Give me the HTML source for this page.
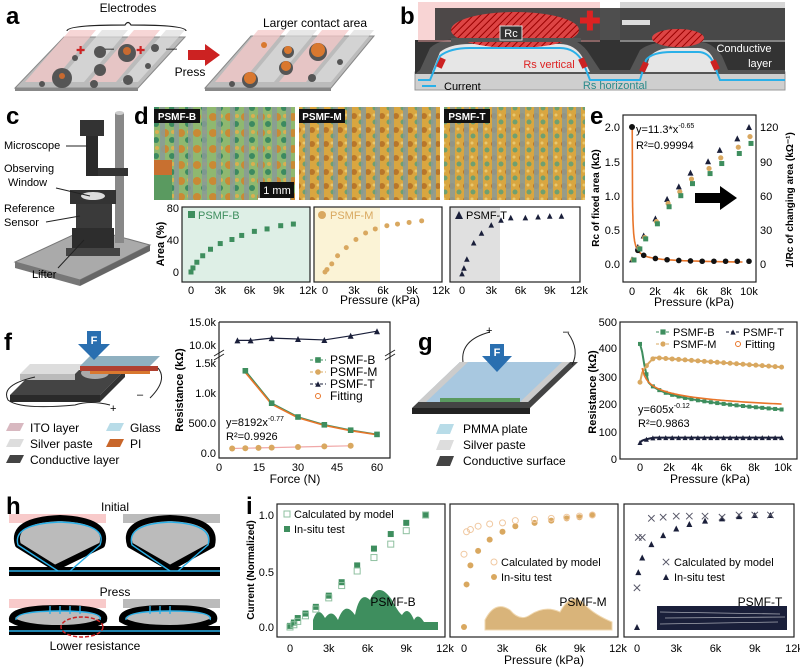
<!DOCTYPE html>
<html><head><meta charset="utf-8">
<style>
html,body{margin:0;padding:0;background:#fff;}
svg{display:block;font-family:"Liberation Sans",sans-serif;}
.pl{font-family:"Liberation Sans",sans-serif;font-weight:bold;font-size:24px;}
.t{font-size:12px;}
.tk{font-size:11px;}
.ax{fill:none;stroke:#222;stroke-width:1.2;}
</style></head><body>
<svg id="s" width="800" height="668" viewBox="0 0 800 668" xmlns="http://www.w3.org/2000/svg">
<defs>
<pattern id="hatch" width="5" height="5" patternUnits="userSpaceOnUse" patternTransform="rotate(45)">
<rect width="5" height="5" fill="#d44"/><line x1="0" y1="0" x2="0" y2="5" stroke="#900" stroke-width="2"/></pattern>
<pattern id="micro" width="14" height="14" patternUnits="userSpaceOnUse">
<rect width="14" height="14" fill="#d9a640"/><circle cx="4" cy="4" r="3" fill="#b8762a"/><circle cx="11" cy="10" r="2.5" fill="#6fa070"/><circle cx="10" cy="3" r="1.5" fill="#e8c870"/></pattern>
<pattern id="microB" width="16" height="16" patternUnits="userSpaceOnUse">
<rect width="16" height="16" fill="#8fb870"/><circle cx="5" cy="5" r="4" fill="#c98a35"/><circle cx="12" cy="12" r="3" fill="#3c8a60"/><circle cx="13" cy="4" r="2" fill="#d8b050"/></pattern>
</defs>

<text class="pl" x="6" y="24">a</text>
<text class="pl" x="400" y="24">b</text>
<text class="pl" x="6" y="124">c</text>
<text class="pl" x="134" y="124">d</text>
<text class="pl" x="590" y="124">e</text>
<text class="pl" x="4" y="350">f</text>
<text class="pl" x="418" y="350">g</text>
<text class="pl" x="6" y="514" font-size="22">h</text>
<text class="pl" x="246" y="514" font-size="22">i</text>

<!-- a -->
<text class="t" x="128" y="12" text-anchor="middle">Electrodes</text>
<path d="M67 31 Q67 25 125 25 Q128 20 131 25 Q186 25 186 31" fill="none" stroke="#222" stroke-width="1.2"/>
<polygon points="15,88 138,88 185,37 64,37" fill="#bbb" stroke="#888"/>
<polygon points="15,88 138,88 138,91 15,91" fill="#888"/>
<polygon points="25,82 52,82 96,30 70,30" fill="#f4c8c8" opacity="0.75"/>
<polygon points="57,82 84,82 128,30 102,30" fill="#ddd" opacity="0.7"/>
<polygon points="89,82 116,82 160,30 134,30" fill="#f4c8c8" opacity="0.75"/>
<polygon points="121,82 138,82 185,30 166,30" fill="#ddd" opacity="0.7"/>
<text x="76" y="54" fill="#c22" font-size="11">✚</text><text x="103" y="52" font-size="11">—</text><text x="136" y="54" fill="#c22" font-size="11">✚</text><text x="166" y="52" font-size="11">—</text>
<g fill="#555"><circle cx="62" cy="78" r="10"/><circle cx="100" cy="70" r="6"/><circle cx="128" cy="80" r="5"/><circle cx="94" cy="84" r="4"/><circle cx="127" cy="53" r="9"/><circle cx="100" cy="52" r="6"/><circle cx="155" cy="48" r="4"/><circle cx="42" cy="84" r="3"/><circle cx="75" cy="58" r="3"/><circle cx="148" cy="66" r="3"/></g>
<g fill="#c86a30"><circle cx="62" cy="76" r="3"/><circle cx="127" cy="51" r="4"/></g>
<polygon points="188,50 205,50 205,44 220,55 205,66 205,60 188,60" fill="#c22"/>
<text class="t" x="190" y="76" text-anchor="middle" font-size="13">Press</text>
<text class="t" x="315" y="27" text-anchor="middle">Larger contact area</text>
<polygon points="205,88 331,88 374,36 251,36" fill="#bbb" stroke="#888"/>
<polygon points="205,88 331,88 331,91 205,91" fill="#888"/>
<polygon points="215,82 242,82 285,30 258,30" fill="#f4c8c8" opacity="0.75"/>
<polygon points="247,82 274,82 317,30 290,30" fill="#ddd" opacity="0.7"/>
<polygon points="279,82 306,82 349,30 322,30" fill="#f4c8c8" opacity="0.75"/>
<polygon points="311,82 331,82 374,30 354,30" fill="#ddd" opacity="0.7"/>
<g fill="#555"><circle cx="250" cy="80" r="8"/><circle cx="286" cy="68" r="7"/><circle cx="318" cy="52" r="9"/><circle cx="288" cy="52" r="6"/><circle cx="232" cy="84" r="3"/><circle cx="312" cy="78" r="4"/><circle cx="340" cy="62" r="3"/></g>
<g fill="#d9782f"><circle cx="250" cy="78" r="6"/><circle cx="286" cy="66" r="5"/><circle cx="318" cy="50" r="7"/><circle cx="288" cy="50" r="4"/><circle cx="264" cy="45" r="3"/></g>

<!-- b -->
<rect x="415" y="72" width="370" height="18" fill="#cfcfcf" stroke="#999"/>
<rect x="415" y="40" width="370" height="34" fill="#333"/>
<path d="M420 70 L430 48 Q440 38 470 38 L560 38 Q580 38 590 55 L600 70 L630 70 L640 50 Q650 42 670 42 L700 42 Q712 42 722 56 L728 70 L785 70 L785 74 L415 74 Z" fill="#555"/>
<path d="M432 72 L440 52 Q450 44 470 44 L560 44 Q575 44 583 58 L590 72 Z" fill="#e6e6e6"/>
<path d="M645 72 L650 56 Q658 48 672 48 L698 48 Q708 48 713 58 L718 72 Z" fill="#e6e6e6"/>
<rect x="418" y="2" width="182" height="40" fill="#f0a0a0" opacity="0.45"/>
<rect x="620" y="2" width="165" height="40" fill="#bbb" opacity="0.6"/>
<rect x="435" y="8" width="350" height="32" fill="#2f2f2f" opacity="0.85"/>
<ellipse cx="515" cy="30" rx="64" ry="18" fill="url(#hatch)"/>
<rect x="451" y="38" width="130" height="4" fill="#555"/>
<ellipse cx="678" cy="38" rx="26" ry="9" fill="url(#hatch)"/>
<text x="579" y="30" fill="#d22" font-size="26" font-weight="bold">✚</text>
<rect x="622" y="20" width="28" height="5" fill="#ddd"/>
<rect x="500" y="26" width="22" height="14" fill="#333" stroke="#ddd"/>
<text x="511" y="37" fill="#fff" font-size="11" text-anchor="middle">Rc</text>
<path d="M418 80 L430 80 L440 56 Q450 48 470 48 L560 48 Q575 48 583 62 L590 80 L640 80 L646 60 Q652 52 672 52 L698 52 Q708 52 713 62 L720 80 L785 80" fill="none" stroke="#2ab0e8" stroke-width="2"/>
<rect x="438" y="58" width="6" height="10" fill="#c22" transform="rotate(25 441 63)"/><rect x="580" y="58" width="6" height="10" fill="#c22" transform="rotate(-25 583 63)"/>
<rect x="641" y="62" width="6" height="10" fill="#c22" transform="rotate(25 644 67)"/><rect x="712" y="60" width="6" height="10" fill="#c22" transform="rotate(-25 715 65)"/>
<text x="549" y="68" fill="#d22" font-size="11" text-anchor="middle">Rs vertical</text>
<text x="744" y="52" fill="#fff" font-size="11" text-anchor="middle">Conductive</text>
<text x="760" y="67" fill="#fff" font-size="11" text-anchor="middle">layer</text>
<path d="M422 86 L436 86" stroke="#2ab0e8" stroke-width="2"/>
<text x="444" y="90" font-size="11">Current</text>
<text x="615" y="89" fill="#2a8a8a" font-size="11" text-anchor="middle">Rs horizontal</text>

<!-- c -->
<polygon points="15,262 80,280 150,245 88,228" fill="#aaa" stroke="#777"/>
<polygon points="15,262 80,280 80,286 15,268" fill="#777"/><polygon points="80,280 150,245 150,251 80,286" fill="#666"/>
<rect x="115" y="113" width="9" height="130" fill="#888"/><ellipse cx="119.5" cy="113" rx="4.5" ry="2" fill="#ccc"/>
<rect x="80" y="120" width="24" height="16" fill="#333"/>
<rect x="86" y="136" width="12" height="40" fill="#2a2a2a"/>
<rect x="98" y="168" width="30" height="8" fill="#333"/>
<rect x="70" y="190" width="46" height="14" fill="#333"/>
<ellipse cx="93" cy="196" rx="12" ry="4" fill="#ddd"/>
<rect x="76" y="204" width="36" height="24" fill="#3a3a3a"/>
<rect x="72" y="228" width="42" height="26" fill="#2d2d2d"/>
<rect x="66" y="248" width="54" height="8" fill="#444"/>
<g stroke="#222" stroke-width="1"><line x1="66" y1="146" x2="88" y2="146"/><line x1="56" y1="188" x2="90" y2="196"/><line x1="46" y1="222" x2="80" y2="216"/><line x1="58" y1="268" x2="84" y2="240"/></g>
<g font-size="11"><text x="4" y="149">Microscope</text><text x="4" y="172">Observing</text><text x="8" y="186">Window</text><text x="4" y="212">Reference</text><text x="4" y="226">Sensor</text><text x="32" y="278">Lifter</text></g>

<!-- d images -->
<rect x="154" y="107" width="141" height="93" fill="url(#microB)"/>
<rect x="299" y="107" width="141" height="93" fill="url(#micro)"/>
<rect x="444" y="107" width="141" height="93" fill="url(#micro)"/>
<g id="stripes"></g>
<rect x="154" y="109" width="46" height="14" fill="#111"/><text x="177" y="120" fill="#fff" font-size="10" font-weight="bold" text-anchor="middle">PSMF-B</text>
<rect x="299" y="109" width="46" height="14" fill="#111"/><text x="322" y="120" fill="#fff" font-size="10" font-weight="bold" text-anchor="middle">PSMF-M</text>
<rect x="444" y="109" width="46" height="14" fill="#111"/><text x="467" y="120" fill="#fff" font-size="10" font-weight="bold" text-anchor="middle">PSMF-T</text>
<rect x="154" y="160" width="18" height="40" fill="#c87030"/><rect x="154" y="175" width="18" height="25" fill="#5a9a60"/>
<rect x="260" y="182" width="34" height="16" fill="#111"/><text x="277" y="194" fill="#fff" font-size="11" text-anchor="middle">1 mm</text>
<line x1="258" y1="199" x2="290" y2="199" stroke="#fff" stroke-width="2"/>

<rect x="182" y="207" width="128" height="75" fill="#deefe6"/>
<rect x="314" y="207" width="66" height="75" fill="#fbf3d6"/>
<rect x="450" y="207" width="50" height="75" fill="#e0e0e0"/>
<rect class="ax" x="182" y="207" width="128" height="75"/>
<rect class="ax" x="314" y="207" width="128" height="75"/>
<rect class="ax" x="450" y="207" width="130" height="75"/>
<g class="tk" text-anchor="end"><text x="179" y="212">80</text><text x="179" y="244">40</text><text x="179" y="276">0</text></g>
<text transform="translate(164,244) rotate(-90)" font-size="11" text-anchor="middle" font-weight="bold">Area (%)</text>
<g class="tk" text-anchor="middle" id="dticks"></g>
<text x="380" y="304" class="t" text-anchor="middle">Pressure (kPa)</text>
<rect x="188" y="211" width="7" height="7" fill="#3e8e5e"/><text x="198" y="219" fill="#3e8e5e" font-size="11">PSMF-B</text>
<circle cx="322" cy="215" r="4" fill="#d9a860"/><text x="330" y="219" fill="#d9a860" font-size="11">PSMF-M</text>
<polygon points="455,219 459,211 463,219" fill="#1a1f3a"/><text x="466" y="219" font-size="11">PSMF-T</text>

<!-- e -->
<rect class="ax" x="623" y="115" width="133" height="167"/>
<g class="tk" text-anchor="end"><text x="620" y="131">2.0</text><text x="620" y="166">1.5</text><text x="620" y="200">1.0</text><text x="620" y="234">0.5</text><text x="620" y="268">0.0</text></g>
<g class="tk"><text x="760" y="131">120</text><text x="760" y="166">90</text><text x="760" y="200">60</text><text x="760" y="234">30</text><text x="760" y="268">0</text></g>
<g class="tk" text-anchor="middle"><text x="632" y="295">0</text><text x="655" y="295">2k</text><text x="679" y="295">4k</text><text x="702" y="295">6k</text><text x="726" y="295">8k</text><text x="749" y="295">10k</text></g>
<text x="694" y="306" class="t" text-anchor="middle">Pressure (kPa)</text>
<text transform="translate(599,198) rotate(-90)" font-size="10" font-weight="bold" text-anchor="middle">Rc of fixed area (kΩ)</text>
<text transform="translate(793,200) rotate(-90)" font-size="10" font-weight="bold" text-anchor="middle">1/Rc of changing area (kΩ⁻¹)</text>
<text x="636" y="133" font-size="11">y=11.3*x<tspan font-size="7" dy="-5">-0.65</tspan></text>
<text x="636" y="149" font-size="11">R²=0.99994</text>
<polygon points="695,193 720,193 720,186 737,198 720,210 720,203 695,203" fill="#000"/>

<!-- f diagram -->
<polygon points="10,395 100,395 125,370 35,370" fill="#444"/><polygon points="10,395 100,395 100,402 10,402" fill="#2a2a2a"/><polygon points="100,395 125,370 125,377 100,402" fill="#333"/>
<polygon points="20,374 75,374 85,364 30,364" fill="#ddd"/><polygon points="20,374 75,374 75,380 20,380" fill="#bbb"/>
<ellipse cx="95" cy="373" rx="14" ry="6" fill="#aaa"/>
<polygon points="80,366 150,366 160,356 90,356" fill="#8fb0c0"/><rect x="80" y="366" width="78" height="5" fill="#b04030"/><rect x="90" y="371" width="60" height="3" fill="#d9782f"/>
<polygon points="87,331 101,331 101,344 110,344 94,360 78,344 87,344" fill="#2a6fb0"/><text x="94" y="344" fill="#fff" font-size="11" text-anchor="middle" font-weight="bold">F</text>
<path d="M35 377 Q0 385 8 400 Q20 410 75 405 Q90 400 110 405" fill="none" stroke="#222"/>
<path d="M158 368 Q168 380 150 398" fill="none" stroke="#222"/>
<text x="110" y="412" font-size="11">+</text><text x="137" y="398" font-size="11">–</text>
<g><polygon points="6,431 20,431 24,423 10,423" fill="#d8b8c0"/><polygon points="6,447 20,447 24,439 10,439" fill="#ddd"/><polygon points="6,463 20,463 24,455 10,455" fill="#444"/>
<polygon points="106,431 120,431 124,423 110,423" fill="#b8dce8"/><polygon points="106,447 120,447 124,439 110,439" fill="#c8662a"/></g>
<g class="t"><text x="30" y="432">ITO layer</text><text x="30" y="448">Silver paste</text><text x="30" y="464">Conductive layer</text><text x="130" y="432">Glass</text><text x="130" y="448">PI</text></g>

<!-- f plot -->
<polyline class="ax" points="219,322 219,458 390,458 390,322 219,322"/>
<g class="tk" text-anchor="end"><text x="216" y="326">15.0k</text><text x="216" y="349">10.0k</text><text x="216" y="367">1.5k</text><text x="216" y="397">1.0k</text><text x="216" y="427">500.0</text><text x="216" y="457">0.0</text></g>
<g class="tk" text-anchor="middle"><text x="219" y="471">0</text><text x="259" y="471">15</text><text x="298" y="471">30</text><text x="337" y="471">45</text><text x="377" y="471">60</text></g>
<text x="295" y="483" class="t" text-anchor="middle">Force (N)</text>
<text transform="translate(183,390) rotate(-90)" font-size="11" font-weight="bold" text-anchor="middle">Resistance (kΩ)</text>
<text x="226" y="426" font-size="11">y=8192x<tspan font-size="7" dy="-5">-0.77</tspan></text>
<text x="226" y="440" font-size="11">R²=0.9926</text>

<!-- g diagram -->
<polygon points="412,408 530,408 578,362 460,362" fill="#444"/><polygon points="412,408 530,408 530,414 412,414" fill="#222"/>
<polygon points="418,402 528,402 570,362 460,362" fill="#a8c8e0"/>
<polygon points="418,402 426,402 468,362 460,362" fill="#ccc"/><polygon points="520,402 528,402 570,362 562,362" fill="#ccc"/>
<polygon points="440,402 520,402 520,398 440,398" fill="#5a9a60"/>
<polygon points="490,344 504,344 504,356 512,356 497,372 482,356 490,356" fill="#2a6fb0"/><text x="497" y="356" fill="#fff" font-size="11" text-anchor="middle" font-weight="bold">F</text>
<path d="M463 362 Q460 340 490 332" fill="none" stroke="#222"/><path d="M572 365 Q580 350 568 333" fill="none" stroke="#222"/>
<text x="486" y="334" font-size="11">+</text><text x="563" y="335" font-size="11">–</text>
<polygon points="436,434 450,434 454,424 440,424" fill="#b8dce8"/><polygon points="436,450 450,450 454,440 440,440" fill="#ddd"/><polygon points="436,466 450,466 454,456 440,456" fill="#444"/>
<g class="t"><text x="463" y="433">PMMA plate</text><text x="463" y="449">Silver paste</text><text x="463" y="465">Conductive surface</text></g>

<!-- g plot -->
<rect class="ax" x="620" y="322" width="177" height="137"/>
<g class="tk" text-anchor="end"><text x="617" y="326">500</text><text x="617" y="352">400</text><text x="617" y="381">300</text><text x="617" y="408">200</text><text x="617" y="436">100</text><text x="617" y="463">0</text></g>
<g class="tk" text-anchor="middle"><text x="640" y="471">0</text><text x="669" y="471">2k</text><text x="697" y="471">4k</text><text x="726" y="471">6k</text><text x="754" y="471">8k</text><text x="783" y="471">10k</text></g>
<text x="710" y="483" class="t" text-anchor="middle">Pressure (kPa)</text>
<text transform="translate(596,392) rotate(-90)" font-size="11" font-weight="bold" text-anchor="middle">Resistance (kΩ)</text>
<text x="638" y="413" font-size="11">y=605x<tspan font-size="7" dy="-5">-0.12</tspan></text>
<text x="638" y="427" font-size="11">R²=0.9863</text>

<!-- h -->
<text x="115" y="511" class="t" font-size="13" text-anchor="middle">Initial</text>
<rect x="9" y="514" width="97" height="9" fill="#f8caca"/><rect x="123" y="514" width="97" height="9" fill="#bbb"/>
<g fill="#bbb" stroke="#000" stroke-width="6" stroke-linejoin="round">
<path d="M55 568 L18 545 Q10 520 60 518 Q110 520 102 545 Z"/>
<path d="M170 568 L130 545 Q122 520 170 518 Q218 520 212 545 Z"/>
</g>
<rect x="9" y="567" width="211" height="9" fill="#000"/>
<g fill="none" stroke="#2ab0e8" stroke-width="1.4"><path d="M9 571 L220 571"/><path d="M58 571 L18 545 Q12 524 60 522 Q108 524 100 545 L70 571" /><path d="M170 571 L132 545 Q126 524 170 522 Q214 524 208 545 L178 571"/></g>
<text x="115" y="596" class="t" font-size="13" text-anchor="middle">Press</text>
<rect x="9" y="599" width="97" height="9" fill="#f8caca"/><rect x="123" y="599" width="97" height="9" fill="#bbb"/>
<g fill="#bbb" stroke="#000" stroke-width="6"><path d="M12 620 Q10 608 60 608 Q108 608 104 620 Q90 628 60 628 Q25 628 12 620Z"/><path d="M122 620 Q120 608 170 608 Q218 608 214 620 Q200 628 170 628 Q135 628 122 620Z"/></g>
<rect x="9" y="626" width="211" height="9" fill="#000"/>
<g fill="none" stroke="#2ab0e8" stroke-width="1.4"><path d="M9 631 L220 631"/><path d="M16 620 Q15 611 60 611 Q104 611 100 620"/><path d="M126 620 Q125 611 170 611 Q214 611 210 620"/></g>
<g stroke="#2ab0e8" stroke-width="1.4"><line x1="60" y1="606" x2="60" y2="614"/><line x1="70" y1="606" x2="70" y2="614"/><line x1="80" y1="606" x2="80" y2="614"/><line x1="50" y1="606" x2="50" y2="614"/><line x1="150" y1="606" x2="150" y2="614"/><line x1="160" y1="606" x2="160" y2="614"/><line x1="170" y1="606" x2="170" y2="614"/></g>
<ellipse cx="82" cy="627" rx="21" ry="10" fill="none" stroke="#c22" stroke-width="1.5" stroke-dasharray="4 2"/>
<text x="95" y="650" class="t" font-size="13" text-anchor="middle">Lower resistance</text>

<!-- i -->
<rect class="ax" x="277" y="504" width="168" height="133"/>
<rect class="ax" x="450" y="504" width="168" height="133"/>
<rect class="ax" x="624" y="504" width="170" height="133"/>
<g class="tk" text-anchor="end"><text x="274" y="519">1.0</text><text x="274" y="576">0.5</text><text x="274" y="631">0.0</text></g>
<text transform="translate(254,570) rotate(-90)" font-size="10" font-weight="bold" text-anchor="middle">Current (Normalized)</text>
<g class="tk" text-anchor="middle" id="iticks"></g>
<text x="544" y="664" class="t" text-anchor="middle">Pressure (kPa)</text>
<path d="M313 630 L313 620 Q318 605 325 618 Q332 608 338 620 Q345 600 355 615 Q360 590 370 600 Q378 580 392 600 Q398 612 402 615 Q408 605 414 620 Q418 612 424 622 L438 622 L438 630 Z" fill="#3e8e5e"/>
<path d="M485 630 L485 620 Q495 600 510 610 Q520 622 530 615 Q545 605 560 612 Q572 590 585 605 Q595 615 612 622 L612 630 Z" fill="#d9b47a" stroke="#f0d8b0"/>
<rect x="657" y="606" width="130" height="24" fill="#1a1f3a"/>
<g stroke="#fff" stroke-width="0.8" opacity="0.6"><line x1="660" y1="612" x2="780" y2="614"/><line x1="665" y1="618" x2="785" y2="617"/><line x1="660" y1="624" x2="778" y2="622"/></g>
<text x="393" y="606" class="t" text-anchor="middle">PSMF-B</text>
<text x="583" y="606" class="t" text-anchor="middle">PSMF-M</text>
<text x="760" y="606" class="t" text-anchor="middle">PSMF-T</text>
<g font-size="11"><text x="294" y="518">Calculated by model</text><text x="294" y="533">In-situ test</text>
<text x="501" y="566">Calculated by model</text><text x="501" y="581">In-situ test</text>
<text x="674" y="566">Calculated by model</text><text x="674" y="581">In-situ test</text></g>
<g id="pts"></g>
</svg>
<script>
const NS="http://www.w3.org/2000/svg",G=document.getElementById('pts');
function el(t,a,p){const e=document.createElementNS(NS,t);for(const k in a)e.setAttribute(k,a[k]);(p||G).appendChild(e);return e;}
function mk(s,x,y,c,r,hollow){r=r||3;
 const f=hollow?'none':c, st=hollow?c:'none';
 if(s==='s')el('rect',{x:x-r,y:y-r,width:2*r,height:2*r,fill:f,stroke:st});
 else if(s==='c')el('circle',{cx:x,cy:y,r:r,fill:f,stroke:st});
 else if(s==='t')el('polygon',{points:`${x-r},${y+r} ${x},${y-r} ${x+r},${y+r}`,fill:f,stroke:st});
 else if(s==='x'){el('line',{x1:x-r,y1:y-r,x2:x+r,y2:y+r,stroke:c});el('line',{x1:x-r,y1:y+r,x2:x+r,y2:y-r,stroke:c});}
}
const GR='#3e8e5e',OR='#d9a860',NV='#1a1f3a',FO='#e8752a';
const S=document.getElementById('stripes');
[154,299,444].forEach(x0=>{for(let i=0;i<10;i++)el('rect',{x:x0+6+i*14,y:107,width:5,height:93,fill:'#8a9a98',opacity:0.85},S);});
const dt=document.getElementById('dticks');
[[191,308],[325,441],[462,579]].forEach(([a,b])=>{['0','3k','6k','9k','12k'].forEach((l,i)=>{const t=el('text',{x:a+(b-a)*i/4,y:294},dt);t.textContent=l;});});
function dmap(a,b,p,v){return [a+(b-a)*p/12000,272-v/80*65];}
[[0,0],[200,5],[600,12],[1200,20],[2000,28],[3000,35],[4200,40],[5200,45],[6500,50],[7800,53],[9200,57],[10500,59]].forEach(([p,v])=>{const [x,y]=dmap(191,308,p,v);mk('s',x,y,GR,2.5);});
[[0,0],[200,3],[700,10],[1300,20],[2200,30],[3200,40],[4200,48],[5200,53],[6400,57],[7500,59],[8700,61],[10000,63]].forEach(([p,v])=>{const [x,y]=dmap(325,441,p,v);mk('c',x,y,OR,2.5);});
[[0,-2],[200,5],[500,16],[1200,36],[2000,48],[3000,58],[4000,64],[5000,67],[6500,67],[7800,68],[9000,69],[10200,69]].forEach(([p,v])=>{const [x,y]=dmap(462,579,p,v);mk('t',x,y,NV,2.8);});
const ex=p=>632+p/10000*117, eyL=v=>264-v/2*137, eyR=v=>264-v/120*137;
let d='';for(let p=40;p<=10000;p*=1.08){d+=(d?'L':'M')+ex(p).toFixed(1)+' '+eyL(Math.min(2.0,11.3*Math.pow(p,-0.65))).toFixed(1);}
el('path',{d:'M'+ex(0)+' '+eyL(2)+' L'+ex(20)+' '+eyL(2)+' '+d.slice(1),fill:'none',stroke:FO,'stroke-width':1.6});
mk('c',ex(0),eyL(2),'#111',3);
[500,1000,2000,3000,4000,5000,6000,7000,8000,9000,10000].forEach(p=>mk('c',ex(p),eyL(Math.max(0.04,11.3*Math.pow(p,-0.65))),'#111',2.8));
const tr=[[0,4],[500,15],[1000,25],[2000,40],[3000,57],[4000,68],[5000,80],[6500,90],[7500,100],[9000,110],[10000,120]];
tr.forEach(([p,v])=>{mk('t',ex(p),eyR(v),NV,3);mk('c',ex(p)+1,eyR(v*0.93),OR,2.6);mk('s',ex(p)+2,eyR(v*0.88),GR,2.5);});
const fx=f=>219+f/60*158, fyL=v=>453-v/1500*90, fyU=v=>345-(v-10000)/5000*23;
el('path',{d:'M214 356 l10 -6 M214 360 l10 -6',stroke:'#222',fill:'none'});
el('path',{d:'M385 356 l10 -6 M385 360 l10 -6',stroke:'#222',fill:'none'});
let tp=[[7,11000],[12,11000],[20,11500],[30,11300],[40,11100],[50,12000],[60,13000]];
el('polyline',{points:tp.map(([f,v])=>fx(f)+','+fyU(v)).join(' '),fill:'none',stroke:NV,'stroke-width':1.2});tp.forEach(([f,v])=>mk('t',fx(f),fyU(v),NV,3));
const bv=[[10,1370],[20,830],[30,600],[40,470],[50,380],[60,310]];
el('polyline',{points:bv.map(([f,v])=>fx(f)+','+fyL(v)).join(' '),fill:'none',stroke:GR,'stroke-width':1.6});
el('polyline',{points:bv.map(([f,v])=>fx(f)+','+fyL(v*0.98)).join(' '),fill:'none',stroke:FO,'stroke-width':1.6});
bv.forEach(([f,v])=>mk('s',fx(f),fyL(v),GR,2.8));
const mv=[5,10,15,20,30,40,50];
el('polyline',{points:mv.map(f=>fx(f)+','+fyL(70+f)).join(' '),fill:'none',stroke:'#f0a8a8','stroke-width':1.2});
mv.forEach(f=>mk('c',fx(f),fyL(70+f),OR,3));
[[360,'s',GR,'PSMF-B'],[372,'c',OR,'PSMF-M'],[384,'t',NV,'PSMF-T']].forEach(([y,s,c,l])=>{el('line',{x1:310,y1:y,x2:326,y2:y,stroke:c,'stroke-dasharray':'3 2'});mk(s,318,y,c,2.8);const t=el('text',{x:330,y:y+4,'font-size':12});t.textContent=l;});
mk('c',318,396,FO,2.5,true);{const t=el('text',{x:330,y:400,'font-size':12});t.textContent='Fitting';}
const gx=p=>640+p/10000*143, gy=v=>459-v/500*137;
let gb='',gm='',gt='',gf='';
for(let p=0;p<=10000;p+=150){
 const b=p<50?420:Math.min(420,605*Math.pow(p,-0.12)*(1-0.00001*p)+ (p<600?80*(1-p/600):0));
 const m=p<1000?280+90*Math.sqrt(p/1000):370-35*(p-1000)/9000;
 const t=p<1000?60+18*Math.sqrt(p/1000):78;
 gb+=(gb?'L':'M')+gx(p)+' '+gy(b);gm+=(gm?'L':'M')+gx(p)+' '+gy(m);gt+=(gt?'L':'M')+gx(p)+' '+gy(t);
 if(p>=150)gf+=(gf?'L':'M')+gx(p)+' '+gy(605*Math.pow(p,-0.12));
 if(p%450===0){mk('s',gx(p),gy(b),GR,2);mk('c',gx(p),gy(m),OR,2.5);mk('t',gx(p),gy(t),NV,2.5);}
}
el('path',{d:gb,fill:'none',stroke:GR,'stroke-width':2});el('path',{d:gm,fill:'none',stroke:OR,'stroke-width':2});el('path',{d:gt,fill:'none',stroke:NV,'stroke-width':2});el('path',{d:gf,fill:'none',stroke:FO,'stroke-width':1.6});
[[656,332,'s',GR,'PSMF-B'],[726,332,'t',NV,'PSMF-T'],[656,344,'c',OR,'PSMF-M']].forEach(([x,y,s,c,l])=>{el('line',{x1:x,y1:y,x2:x+14,y2:y,stroke:c,'stroke-dasharray':'3 2'});mk(s,x+7,y,c,2.6);const t=el('text',{x:x+17,y:y+4,'font-size':11});t.textContent=l;});
mk('c',738,344,FO,2.5,true);{const t=el('text',{x:745,y:348,'font-size':11});t.textContent='Fitting';}
const it=document.getElementById('iticks');
[[290,445],[464,618],[637,794]].forEach(([a,b])=>{['0','3k','6k','9k','12k'].forEach((l,i)=>{const t=el('text',{x:a+(b-a)*i/4,y:652},it);t.textContent=l;});});
const iy=v=>627-v*112;
function ipl(a,b,arr,s,c){arr.forEach(([p,v,m])=>{const x=a+(b-a)*p/12000;mk(s,x,iy(v),c,3);if(s==='t')mk('x',x,iy(m),'#556',3.2);else mk(s,x,iy(m),c==GR?'#8fc0a0':'#f0c8a0',3,true);});}
mk('s',287,514,'#8fc0a0',3,true);mk('s',287,529,GR,3);
mk('c',494,562,'#f0c8a0',3,true);mk('c',494,577,OR,3);
mk('x',666,562,'#556',3.2);mk('t',666,577,NV,3);
ipl(290,445,[[0,0.01,0],[300,0.04,0.02],[600,0.08,0.05],[1200,0.12,0.1],[2000,0.18,0.16],[3000,0.28,0.26],[4000,0.4,0.37],[5200,0.55,0.5],[6500,0.7,0.62],[7800,0.83,0.74],[9000,0.93,0.86],[10500,1,1]],'s',GR);
ipl(464,618,[[0,0,0.65],[200,0.38,0.85],[500,0.55,0.87],[1100,0.68,0.9],[2000,0.78,0.92],[3000,0.85,0.93],[4000,0.9,0.95],[5500,0.93,0.96],[6800,0.95,0.97],[8000,0.97,0.98],[9000,0.98,0.99],[10000,1,1]],'c',OR);
ipl(637,794,[[0,0,0.35],[100,0.49,0.8],[400,0.62,0.8],[1100,0.74,0.97],[2000,0.82,0.98],[3000,0.88,0.99],[4000,0.92,0.99],[5200,0.95,0.99],[6500,0.97,0.98],[7800,0.99,1],[9000,1,1],[10200,1,1]],'t',NV);
</script>
</body></html>
